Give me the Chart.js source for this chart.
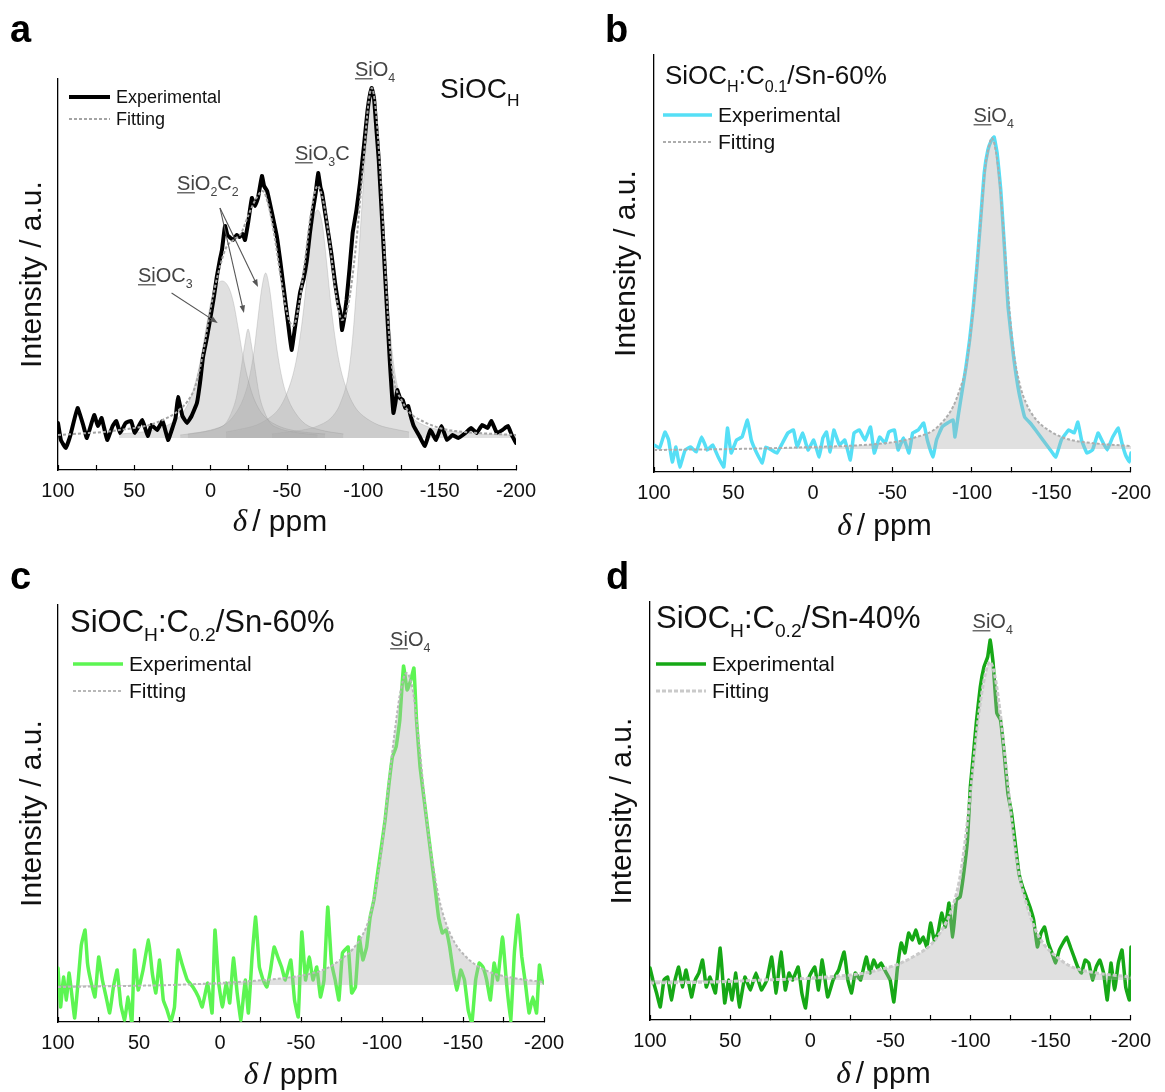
<!DOCTYPE html>
<html lang="en">
<head>
<meta charset="utf-8">
<title>29Si MAS NMR spectra</title>
<script src="https://cdn.jsdelivr.net/npm/chart.js@4.4.1/dist/chart.umd.min.js"></script>
<style>
  html, body { margin: 0; background: #fff; }
  #fig { position: relative; width: 1165px; height: 1092px; overflow: hidden; }
  #fig canvas { position: absolute; }
</style>
</head>
<body>
<div id="fig">
  <canvas id="chartA" width="582" height="546" style="left:0;top:0"></canvas>
  <canvas id="chartB" width="583" height="546" style="left:582px;top:0"></canvas>
  <canvas id="chartC" width="582" height="546" style="left:0;top:546px"></canvas>
  <canvas id="chartD" width="583" height="546" style="left:582px;top:546px"></canvas>
</div>
<script>
// Chemical shift (ppm) and intensity (a.u., fitted baseline = 0)

// --- a: SiOC_H ---
const aShift = [100, 98.1, 94.9, 92, 87.2, 83.5, 81.1, 76.3, 73.9, 71.4, 67.8, 64.2, 61.8, 59.3, 55.7, 52.1, 49.7, 44.8, 41.2, 38.8,
  35.1, 31.5, 27.9, 25.5, 23, 21.4, 18.5, 15.5, 12.5, 9, 7, 5, 2.5, 0.4, -2, -4, -6, -7.4, -9.4, -11,
  -13, -14.6, -17, -19, -21, -22.5, -24.5, -27, -29, -31, -33.6, -35, -37, -40, -43.4, -45.5, -47.4, -50.7, -53, -55,
  -58.5, -61, -63, -65, -67, -68.8, -70.4, -72, -73, -75, -77, -79, -81.5, -83.5, -85, -86, -87.5, -89, -91, -93,
  -95.5, -97.8, -100.4, -102.8, -104.5, -105.5, -107, -108.5, -110.1, -112.5, -114.9, -117.3, -119.7, -121, -122.2, -124, -125.8, -127.5, -129.4, -131,
  -133, -136.7, -140.3, -143.9, -147.6, -151.2, -154.8, -158.5, -162.1, -166.9, -170.6, -174.2, -177.8, -181.4, -183.9, -187.5, -191.1, -194.8, -197.2, -200];
const aExp = [15, -2, -10, 2, 30, 13, 0, 23, 12, 20, -2, 12, 17, 5, 15, 17, 5, 18, 2, 13,
  8, 17, -2, 8, 20, 41, 22, 15, 22, 35, 55, 81, 100, 118, 140, 161, 178, 188, 212, 203,
  200, 198, 203, 201, 204, 198, 215, 240, 232, 240, 262, 252, 247, 226, 201, 178, 155, 115, 88, 108,
  145, 160, 178, 205, 228, 245, 265, 250, 245, 225, 205, 185, 155, 135, 125, 108, 120, 138, 170, 205,
  228, 255, 292, 328, 345, 350, 340, 310, 278, 212, 145, 78, 25, 35, 48, 40, 38, 30, 32, 22,
  12, 2, -8, 8, -2, 12, -2, 3, 0, 5, 10, 5, 13, 10, 17, 5, 8, 12, 3, -5];
const aFitShift = [100, 90, 80, 70, 60, 50, 40, 30, 25, 20, 15, 10, 5, 0, -5, -10, -15, -20, -25, -30, -34, -38, -42, -46, -50,
  -54, -58, -62, -66, -70, -74, -78, -82, -86, -90, -95, -100, -103, -105.5, -108, -111, -115, -117.5, -120, -125, -130, -140, -150, -160, -175, -200];
const aFit = [3, 4, 5, 6, 8, 10, 13, 19, 23, 29, 37, 52, 85, 130, 165, 190, 198, 205, 224, 240, 247, 232, 200, 160, 125,
  112, 135, 180, 228, 252, 235, 195, 145, 118, 132, 190, 275, 330, 350, 330, 268, 150, 90, 58, 38, 26, 16, 10, 7, 5, 3];
const aSiOC3Shift = [60, 45, 35, 28, 22, 17, 12, 7, 3, 0, -3, -7.5, -12, -15, -18, -22, -27, -32, -37, -43, -50, -60, -75];
const aSiOC3 = [4, 6, 9, 13, 19, 28, 45, 75, 110, 135, 150, 157, 150, 135, 110, 75, 45, 28, 19, 13, 9, 6, 4];
const aSiO2C2aShift = [20, 5, -5, -10, -14, -17, -20, -22.5, -24.5, -26.5, -29, -32, -35, -39, -44, -54, -70];
const aSiO2C2a = [3, 6, 10, 15, 27, 42, 70, 95, 109, 95, 70, 42, 27, 15, 10, 6, 3];
const aSiO2C2bShift = [15, 0, -10, -16, -21, -25, -28.5, -31, -33.5, -36, -38.5, -41, -43.5, -47, -51, -56, -62, -72, -87];
const aSiO2C2b = [4, 8, 14, 24, 38, 58, 88, 120, 150, 165, 150, 120, 88, 58, 38, 24, 14, 8, 4];
const aSiO3CShift = [-10, -20, -30, -40, -45, -50, -55, -58, -61, -64, -67, -70, -73, -76, -79, -82, -85, -90, -95, -100, -110, -120, -130];
const aSiO3C = [6, 9, 13, 22, 30, 45, 70, 95, 130, 175, 215, 228, 215, 175, 130, 95, 70, 45, 30, 22, 13, 9, 6];
const aSiO4Shift = [-40, -50, -60, -70, -80, -85, -90, -93, -96, -99, -102, -105.5, -109, -112, -115, -118, -121, -126, -131, -141, -151, -161, -175, -200];
const aSiO4 = [4, 6, 8, 12, 22, 35, 62, 100, 160, 230, 295, 342, 295, 230, 160, 100, 62, 35, 22, 12, 8, 6, 4, 3];

// --- b: SiOC_H:C0.1/Sn-60% ---
const bShift = [100, 96.5, 93.1, 90.8, 88.5, 86.2, 83.8, 80.4, 76.9, 73.5, 70, 66.5, 63.1, 59.6, 56.1, 53.8, 51.5, 48.1, 44.6, 41.2,
  38.8, 35.4, 31.9, 29.6, 26.1, 22.7, 19.2, 15.8, 12.3, 10, 6.5, 3.1, -0.4, -3.9, -6.2, -8.5, -10.8, -13.1, -16.6, -20,
  -23.5, -25.8, -29.2, -32.7, -36.2, -38.5, -41.9, -45.4, -47.7, -51.2, -53.5, -56.9, -60.4, -62.7, -66.2, -69.6, -71.9, -75.4, -77.7, -81.2,
  -84.6, -88.1, -89.3, -91.6, -93.9, -96.2, -98.5, -100.8, -103.1, -105.4, -107.7, -110, -112.3, -113.9, -115.8, -118.1, -120.4, -122.7, -126.2, -129.6,
  -133.1, -136.6, -140, -144.6, -149.3, -152.7, -156.2, -160.8, -164.3, -166.6, -168.9, -172.3, -175.8, -179.3, -181.6, -185, -188.5, -192, -194.3, -196.6,
  -198.9, -200];
const bExp = [4, 1, 17, 9, -13, 2, -18, -1, 2, -3, 12, -1, 4, -8, -18, 21, -4, 9, 12, 29,
  9, -4, -14, 2, -1, -4, 6, 16, 19, 2, 16, -1, 9, -8, 11, 17, -3, 19, 4, 9,
  -11, 16, 19, 9, 22, -4, 12, 6, 17, 19, -1, 11, -4, 16, 19, 26, 9, -8, 9, 22,
  26, 29, 12, 36, 59, 82, 109, 142, 182, 229, 276, 299, 309, 312, 296, 259, 202, 142, 92, 56,
  32, 26, 19, 9, -1, -8, 9, 19, 16, 27, 9, -4, -1, 16, 9, -1, 12, 21, 6, -6,
  -13, -4];
const bFitShift = [100, 50, 20, 0, -20, -40, -55, -65, -75, -82, -88, -92, -96, -98.5, -101, -103, -105.5, -108, -110.5, -112.5,
  -115, -118, -120.5, -123, -126, -130, -134, -140, -150, -160, -175, -190, -200];
const bFit = [-1, 0, 1, 2, 3, 5, 8, 12, 18, 28, 42, 58, 80, 108, 145, 182, 230, 278, 302, 311,
  298, 258, 205, 150, 100, 65, 46, 30, 17, 10, 6, 4, 3];

// --- c: SiOC_H:C0.2/Sn-60% ---
const cShift = [100, 98.4, 96.6, 94.8, 93.2, 91.6, 89.7, 87.5, 85.6, 83.3, 81.8, 79.9, 77.2, 74.9, 72.6, 70.3, 68.1, 65.8, 63.5, 61.2,
  58.9, 56.7, 54.4, 52.8, 50.5, 47.5, 44.1, 41.8, 39.6, 37.3, 35, 32.7, 30.4, 28.1, 25.9, 23.6, 20.2, 16.7, 13.3, 11,
  7.6, 4.9, 3.1, 0.8, -1.5, -3.8, -6, -8.3, -10.6, -12.9, -15.6, -17.5, -19.8, -22, -24.3, -26.6, -28.9, -31.2, -33.4, -35.7,
  -38, -40.3, -43.7, -46, -48.3, -50.5, -52.8, -55.1, -57.4, -59.7, -62, -64.2, -66.5, -68.8, -71.1, -73.4, -75.6, -79.1, -81.3, -83.6,
  -85.9, -88.2, -90.5, -92.7, -95, -97.3, -99.6, -101.9, -104.1, -106.4, -108.7, -111, -113.3, -115.5, -117.8, -119.7, -121.3, -123.5, -125.8, -128.1,
  -130.4, -132.7, -134.9, -137.2, -139.5, -141.8, -144.1, -146.3, -148.6, -150.9, -153.2, -155.5, -157.8, -160, -162.3, -164.6, -166.9, -169.2, -171.4, -174.4,
  -176.7, -179.4, -181.7, -184, -186.3, -188.5, -190.8, -193.1, -195.4, -197.2, -198.8, -200];
const cExp = [17, -22, 8, -15, 12, -8, -33, 5, 40, 55, 22, 5, -12, 28, 5, -12, -28, -2, 15, -20,
  -35, -12, -38, 35, -5, 15, 45, 12, -8, 25, -15, -25, -37, -22, 35, 22, 5, -2, -12, -22,
  2, -28, 55, 2, -22, 2, -18, 27, -8, -35, 5, -28, 28, 68, 18, 5, -2, 15, 38, 28,
  18, 5, 25, -15, -32, 53, 5, 28, 5, 18, -12, 5, 78, 22, 5, -15, 32, 38, -8, -2,
  48, 25, 38, 68, 85, 112, 138, 165, 198, 228, 238, 265, 319, 295, 305, 317, 265, 218, 188, 158,
  128, 98, 68, 52, 55, 38, 12, -5, 15, 5, -25, -38, 5, 22, 18, 5, -15, 22, 5, 48,
  5, -37, 32, 70, 28, 2, -28, -12, -28, 20, 5, 2];
const cFitShift = [100, 60, 30, 0, -20, -40, -55, -65, -75, -82, -88, -92, -96, -100, -104, -108, -111, -115, -119, -123,
  -127, -131, -135, -139, -145, -152, -160, -170, -185, -200];
const cFit = [-2, -1, 0, 2, 4, 7, 11, 16, 26, 36, 50, 66, 95, 140, 200, 255, 290, 312, 295, 240,
  175, 125, 88, 64, 42, 28, 18, 11, 6, 3];

// --- d: SiOC_H:C0.2/Sn-40% ---
const dShift = [100, 98.2, 95.9, 93.6, 91.3, 89, 86.7, 84.4, 82.1, 79.8, 77.5, 74.1, 71.8, 69.5, 67.2, 64.9, 62.6, 59.2, 56.2, 53.4,
  51.1, 48.8, 46.5, 44.3, 40.8, 37.4, 33.9, 30.5, 27.1, 24.1, 21.3, 18.3, 15.6, 13.3, 11, 7.6, 5.3, 3, 0.7, -2.8,
  -5.1, -7.4, -10.8, -14.2, -17.7, -21.1, -23.4, -25.7, -28, -31.4, -34.9, -37.2, -39.5, -41.8, -44.1, -46.4, -49.8, -52.1, -54.4, -56.7,
  -59, -61.3, -63.6, -65.9, -68.1, -70.4, -72.7, -75, -77.3, -79.6, -81.9, -84.2, -86.5, -88.8, -91.1, -93.4, -95.7, -98, -99.8, -101.4,
  -103.7, -106, -108.3, -110.6, -112.2, -114, -116.3, -118.6, -120.9, -123.2, -125.5, -127.8, -130.1, -132.4, -134.7, -137, -139.3, -141.6, -143.9, -146.1,
  -148.4, -150.7, -153, -155.3, -157.6, -159.9, -162.2, -164.5, -166.8, -169.1, -171.4, -173.7, -176, -178.3, -180.6, -182.9, -185.2, -187.5, -189.8, -192.1,
  -194.4, -196.7, -199, -200];
const dExp = [12, 0, -13, -27, 0, 3, -20, 0, 13, -7, 10, -17, 0, 7, 20, -7, 3, -13, 32, -23,
  0, -20, 7, -27, 3, -10, 7, -10, 0, 23, -13, 28, -10, 7, 0, 13, -13, -28, 3, 13,
  -10, 20, -17, 0, 10, 28, 0, -13, 7, 0, 23, 7, 20, 12, 17, 10, 0, -22, 13, 37,
  27, 47, 40, 50, 37, 43, 33, 57, 40, 47, 67, 53, 77, 43, 80, 83, 107, 140, 193, 220,
  260, 293, 313, 323, 340, 317, 267, 260, 227, 187, 167, 137, 107, 93, 83, 73, 60, 33, 47, 53,
  37, 27, 17, 30, 37, 43, 33, 23, 13, 7, 20, 17, 0, 13, 20, 7, -20, 17, -10, 17,
  30, -7, -20, 33];
const dFitShift = [100, 60, 30, 10, -10, -30, -45, -55, -65, -75, -82, -88, -93, -97, -101, -105, -109, -112, -115, -119,
  -123, -127, -131, -135, -140, -146, -153, -162, -175, -200];
const dFit = [-3, -2, 0, 1, 3, 6, 11, 16, 24, 35, 50, 70, 100, 145, 205, 265, 305, 318, 305, 260,
  200, 140, 100, 75, 52, 35, 24, 14, 8, 3];

// x axis ticks (ppm)
const shiftMin = -200, shiftMax = 100, shiftStep = 25, labelStep = 50;

/* ------------------------
   Styles and layout
------------------------- */
const FONT = '"Liberation Sans", Arial, Helvetica, sans-serif';
const FILL = "rgba(172,172,172,0.37)";

const SI = ["Si", "u"];
const PANELS = {
  chartA: {
    w: 582, h: 546, area: { left: 58, right: 516, top: 79, bottom: 470 }, yRange: [-32, 359], yTitleX: 33,
    letter: ["a", 10, 42],
    title: { x: 440, y: 98, size: 28, parts: [["SiOC", ""], ["H", "s"]] },
    legend: { x: 69, y: 97, step: 22, len: 41, size: 18 },
    labels: [
      { at: [-94.5, 362], parts: [SI, ["O", ""], ["4", "s"]] },
      { at: [-55.2, 278], parts: [SI, ["O", ""], ["3", "s"], ["C", ""]] },
      { at: [22, 248], parts: [SI, ["O", ""], ["2", "s"], ["C", ""], ["2", "s"]] },
      { at: [47.6, 156], parts: [SI, ["OC", ""], ["3", "s"]] }
    ],
    labelSize: 20,
    arrows: [[-6.1, 230, -21.8, 125], [-6.1, 230, -31, 151], [25.6, 145, -4.6, 115]],
    xTitle: { dx: -7, dy: 61 }
  },
  chartB: {
    w: 583, h: 546, area: { left: 72, right: 558, top: 55, bottom: 472 }, yRange: [-23, 394], yTitleX: 45,
    letter: ["b", 23, 42],
    title: { x: 83, y: 84, size: 26, parts: [["SiOC", ""], ["H", "s"], [":C", ""], ["0.1", "s"], ["/Sn-60%", ""]] },
    legend: { x: 81, y: 115, step: 27, len: 49, size: 21 },
    labels: [{ at: [-101, 327], parts: [SI, ["O", ""], ["4", "s"]] }],
    labelSize: 20,
    arrows: [],
    xTitle: { dx: -8, dy: 63 }
  },
  chartC: {
    w: 582, h: 546, area: { left: 58, right: 544, top: 59, bottom: 476 }, yRange: [-37, 380], yTitleX: 33,
    letter: ["c", 10, 43],
    title: { x: 70, y: 86, size: 31, parts: [["SiOC", ""], ["H", "s"], [":C", ""], ["0.2", "s"], ["/Sn-60%", ""]] },
    legend: { x: 73, y: 118, step: 27, len: 50, size: 21 },
    labels: [{ at: [-105, 339], parts: [SI, ["O", ""], ["4", "s"]] }],
    labelSize: 20,
    arrows: [],
    xTitle: { dx: -10, dy: 62 }
  },
  chartD: {
    w: 583, h: 546, area: { left: 68, right: 554, top: 56, bottom: 474 }, yRange: [-40, 378], yTitleX: 41,
    letter: ["d", 24, 43],
    title: { x: 74, y: 82, size: 31, parts: [["SiOC", ""], ["H", "s"], [":C", ""], ["0.2", "s"], ["/Sn-40%", ""]] },
    legend: { x: 74, y: 118, step: 27, len: 50, size: 21 },
    labels: [{ at: [-101.2, 352], parts: [SI, ["O", ""], ["4", "s"]] }],
    labelSize: 20,
    arrows: [],
    xTitle: { dx: -7, dy: 63 }
  }
};

/* ------------------------
   Dataset helpers
------------------------- */
function xy(xs, ys) {
  const n = Math.min(xs.length, ys.length);
  return xs.slice(0, n).map((x, i) => ({ x, y: ys[i] }));
}

function expSet(xs, ys, color, width, order) {
  return {
    label: "Experimental", data: xy(xs, ys), borderColor: color, borderWidth: width,
    pointRadius: 0, tension: 0.1, fill: false, order,
    borderJoinStyle: "round", borderCapStyle: "round"
  };
}

function fitSet(xs, ys, color, width, dash) {
  return {
    label: "Fitting", data: xy(xs, ys), borderColor: color, borderWidth: width, borderDash: dash,
    pointRadius: 0, cubicInterpolationMode: "monotone", fill: false, order: 0
  };
}

function areaSet(name, xs, ys, order, edge) {
  return {
    label: name, data: xy(xs, ys), borderColor: edge, borderWidth: edge ? 1 : 0,
    backgroundColor: FILL, fill: "origin", pointRadius: 0, cubicInterpolationMode: "monotone", order
  };
}

const datasets = {
  chartA: [
    expSet(aShift, aExp, "#000000", 4, 2),
    fitSet(aFitShift, aFit, "#a4a4a4", 2, [3, 2]),
    areaSet("SiOC3", aSiOC3Shift, aSiOC3, 5, "rgba(150,150,150,0.3)"),
    areaSet("SiO2C2 (1)", aSiO2C2aShift, aSiO2C2a, 5, "rgba(150,150,150,0.3)"),
    areaSet("SiO2C2 (2)", aSiO2C2bShift, aSiO2C2b, 5, "rgba(150,150,150,0.3)"),
    areaSet("SiO3C", aSiO3CShift, aSiO3C, 5, "rgba(150,150,150,0.3)"),
    areaSet("SiO4", aSiO4Shift, aSiO4, 5, "rgba(150,150,150,0.3)")
  ],
  chartB: [
    expSet(bShift, bExp, "#55dff6", 3.5, 3),
    fitSet(bFitShift, bFit, "#adadad", 2, [3, 2]),
    areaSet("SiO4", bFitShift, bFit, 2, null)
  ],
  chartC: [
    expSet(cShift, cExp, "#5cf552", 3.5, 3),
    fitSet(cFitShift, cFit, "#b8b8b8", 2, [3, 2]),
    areaSet("SiO4", cFitShift, cFit, 2, null)
  ],
  chartD: [
    expSet(dShift, dExp, "#16a816", 3.5, 3),
    fitSet(dFitShift, dFit, "#cacaca", 3, [4, 2]),
    areaSet("SiO4", dFitShift, dFit, 2, null)
  ]
};

/* ------------------------
   Text drawing
------------------------- */
// parts: [text, kind] with kind "" normal, "u" underlined, "s" subscript
function richText(ctx, x, y, parts, size, color) {
  let cx = x;
  ctx.fillStyle = color;
  ctx.strokeStyle = color;
  ctx.textAlign = "left";
  ctx.textBaseline = "alphabetic";
  parts.forEach(([t, kind]) => {
    const fs = kind === "s" ? size * 0.62 : size;
    ctx.font = fs + "px " + FONT;
    const dy = kind === "s" ? size * 0.3 : 0;
    ctx.fillText(t, cx, y + dy);
    const w = ctx.measureText(t).width;
    if (kind === "u") {
      ctx.lineWidth = Math.max(1, size / 17);
      ctx.beginPath();
      ctx.moveTo(cx, y + size * 0.14);
      ctx.lineTo(cx + w, y + size * 0.14);
      ctx.stroke();
    }
    cx += w;
  });
}

function arrow(ctx, x1, y1, x2, y2) {
  const ang = Math.atan2(y2 - y1, x2 - x1);
  const head = 8;
  ctx.strokeStyle = "#555";
  ctx.fillStyle = "#555";
  ctx.lineWidth = 1.1;
  ctx.beginPath();
  ctx.moveTo(x1, y1);
  ctx.lineTo(x2 - Math.cos(ang) * head * 0.6, y2 - Math.sin(ang) * head * 0.6);
  ctx.stroke();
  ctx.beginPath();
  ctx.moveTo(x2, y2);
  ctx.lineTo(x2 - head * Math.cos(ang - 0.35), y2 - head * Math.sin(ang - 0.35));
  ctx.lineTo(x2 - head * Math.cos(ang + 0.35), y2 - head * Math.sin(ang + 0.35));
  ctx.closePath();
  ctx.fill();
}

const figurePlugin = {
  id: "figure",
  afterDraw(chart) {
    const p = PANELS[chart.canvas.id];
    const ctx = chart.ctx;
    const sx = chart.scales.x, sy = chart.scales.y;
    ctx.save();

    // panel letter
    ctx.fillStyle = "#000";
    ctx.font = "bold 38px " + FONT;
    ctx.textAlign = "left";
    ctx.textBaseline = "alphabetic";
    ctx.fillText(p.letter[0], p.letter[1], p.letter[2]);

    // sample name
    richText(ctx, p.title.x, p.title.y, p.title.parts, p.title.size, "#111");

    // legend, styled from the first two datasets
    [0, 1].forEach(i => {
      const ds = chart.data.datasets[i];
      const y = p.legend.y + i * p.legend.step;
      ctx.save();
      ctx.strokeStyle = ds.borderColor;
      ctx.lineWidth = ds.borderWidth;
      ctx.setLineDash(ds.borderDash || []);
      ctx.beginPath();
      ctx.moveTo(p.legend.x, y);
      ctx.lineTo(p.legend.x + p.legend.len, y);
      ctx.stroke();
      ctx.restore();
      ctx.font = p.legend.size + "px " + FONT;
      ctx.fillStyle = "#111";
      ctx.textBaseline = "middle";
      ctx.fillText(ds.label, p.legend.x + p.legend.len + 6, y + 1);
    });

    // peak labels and arrows, placed in data coordinates
    p.labels.forEach(l => {
      richText(ctx, sx.getPixelForValue(l.at[0]), sy.getPixelForValue(l.at[1]), l.parts, p.labelSize, "#444");
    });
    p.arrows.forEach(([x1, y1, x2, y2]) => {
      arrow(ctx, sx.getPixelForValue(x1), sy.getPixelForValue(y1), sx.getPixelForValue(x2), sy.getPixelForValue(y2));
    });

    // x axis title: italic delta + "/ ppm"
    const cx = (chart.chartArea.left + chart.chartArea.right) / 2 + p.xTitle.dx;
    const by = sx.top + p.xTitle.dy;
    const serif = "italic 31px 'Liberation Serif', 'DejaVu Serif', serif";
    const sans = "30px " + FONT;
    ctx.textBaseline = "alphabetic";
    ctx.fillStyle = "#111";
    ctx.font = serif;
    const wd = ctx.measureText("δ").width;
    ctx.font = sans;
    const wr = ctx.measureText("/ ppm").width;
    const x0 = cx - (wd + 5 + wr) / 2;
    ctx.font = serif;
    ctx.fillText("δ", x0, by);
    ctx.font = sans;
    ctx.fillText("/ ppm", x0 + wd + 5, by);

    ctx.restore();
  }
};

/* ------------------------
   Charts
------------------------- */
function makeChart(id) {
  const p = PANELS[id];
  const xAxisHeight = -5 + 24 + 2 * 14;
  return new Chart(document.getElementById(id), {
    type: "line",
    data: { datasets: datasets[id] },
    options: {
      responsive: false,
      animation: false,
      events: [],
      layout: {
        padding: {
          left: p.yTitleX - 18,
          right: p.w - p.area.right,
          top: p.area.top,
          bottom: p.h - p.area.bottom - xAxisHeight
        }
      },
      plugins: { legend: { display: false }, tooltip: { enabled: false } },
      scales: {
        x: {
          type: "linear", min: shiftMin, max: shiftMax, reverse: true,
          border: { display: true, color: "#000", width: 1.3 },
          grid: { display: true, drawOnChartArea: false, drawTicks: true, tickLength: -5, tickColor: "#000", tickWidth: 1.2 },
          ticks: {
            stepSize: shiftStep, autoSkip: false, maxRotation: 0, maxTicksLimit: 20, padding: 14,
            color: "#111", font: { size: 20, family: FONT },
            callback: v => (v % labelStep === 0 ? String(v) : "")
          }
        },
        y: {
          type: "linear", min: p.yRange[0], max: p.yRange[1],
          border: { display: true, color: "#000", width: 1.3 },
          grid: { display: false, drawTicks: false },
          ticks: { display: false },
          title: {
            display: true, text: "Intensity / a.u.", color: "#111",
            font: { size: 30, family: FONT, lineHeight: 1.2 },
            padding: { top: 0, bottom: p.area.left - p.yTitleX - 18 }
          }
        }
      }
    },
    plugins: [figurePlugin]
  });
}

["chartA", "chartB", "chartC", "chartD"].forEach(makeChart);
</script>
</body>
</html>
